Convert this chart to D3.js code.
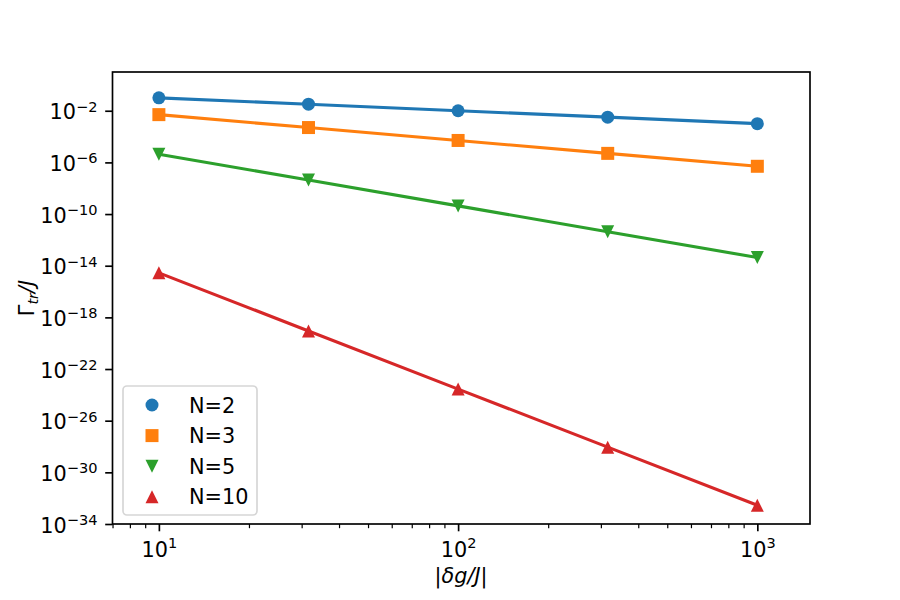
<!DOCTYPE html>
<html>
<head>
<meta charset="utf-8">
<script src="https://cdn.jsdelivr.net/npm/d3@7"></script>
<style>
  body { margin: 0; background: #fff; }
  svg { display: block; }
  svg text { font-family: "DejaVu Sans", sans-serif; }
</style>
</head>
<body>
<div id="chart"></div>
<script>
// coupling strengths |dg/J| (log spaced)
const deltaG = [10, 31.62, 100, 316.2, 1000];

// transfer rates
const rateN2 = [1.0e-1, 3.2e-2, 1.0e-2, 3.2e-3, 1.0e-3];
const rateN3 = [5.0e-3, 5.0e-4, 5.0e-5, 5.0e-6, 5.0e-7];
const rateN5 = [4.3e-6, 4.3e-8, 4.3e-10, 4.3e-12, 4.3e-14];
const rateN10 = [2.8e-15, 8.9e-20, 2.8e-24, 8.9e-29, 2.8e-33];

const seriesNames = ['N=2', 'N=3', 'N=5', 'N=10'];
const seriesColors = ['#1f77b4', '#ff7f0e', '#2ca02c', '#d62728'];
const seriesMarkers = ['circle', 'square', 'down', 'up'];

const xMajorTicks = [1, 2, 3];            // exponents of 10
const yMajorTicks = [-34, -30, -26, -22, -18, -14, -10, -6, -2];

const width = 900;
const height = 600;
const margin = { top: 72, right: 90, bottom: 76, left: 112.5 };
const fontSize = 20.8;

const svg = d3.select('#chart')
    .append('svg')
    .attr('width', width)
    .attr('height', height);

const scaleX = d3.scaleLog()
    .domain([Math.pow(10, 0.845), Math.pow(10, 3.176)])
    .range([margin.left, width - margin.right]);

const scaleY = d3.scaleLog()
    .domain([1e-34, 1e1])
    .range([height - margin.bottom, margin.top]);

// minor x ticks: 2..9 x 10^n inside the domain
const xMinorTicks = [];
[1, 10, 100, 1000].forEach(dec => {
    for (let k = 2; k <= 9; k++) {
        const v = k * dec;
        if (v >= scaleX.domain()[0] - 1e-9 && v <= scaleX.domain()[1]) xMinorTicks.push(v);
    }
});

// X axis
const xAxis = svg.append('g')
    .attr('transform', `translate(0, ${height - margin.bottom})`)
    .call(d3.axisBottom(scaleX)
        .tickValues(xMajorTicks.map(e => Math.pow(10, e)))
        .tickSize(7.3)
        .tickFormat(() => ''))
    .attr('font-family', null);

svg.append('g')
    .attr('transform', `translate(0, ${height - margin.bottom})`)
    .call(d3.axisBottom(scaleX)
        .tickValues(xMinorTicks)
        .tickSize(4.2)
        .tickFormat(() => ''))
    .call(g => g.select('.domain').remove())
    .call(g => g.selectAll('line').attr('stroke-width', 1.2));

xAxis.select('.domain').remove();
xAxis.selectAll('line').attr('stroke-width', 1.67);

xAxis.selectAll('.tick')
    .append('text')
    .attr('fill', '#000')
    .attr('y', 32.5)
    .attr('text-anchor', 'middle')
    .style('font-family', '"DejaVu Sans"')
    .style('font-size', fontSize + 'px')
    .each(function (d) {
        const t = d3.select(this);
        t.append('tspan').text('10');
        t.append('tspan')
            .attr('dy', -8.5)
            .style('font-size', (fontSize * 0.7) + 'px')
            .text(Math.round(Math.log10(d)));
    });

// Y axis
const yAxis = svg.append('g')
    .attr('transform', `translate(${margin.left}, 0)`)
    .call(d3.axisLeft(scaleY)
        .tickValues(yMajorTicks.map(e => Math.pow(10, e)))
        .tickSize(7.3)
        .tickFormat(() => ''))
    .attr('font-family', null);

yAxis.select('.domain').remove();
yAxis.selectAll('line').attr('stroke-width', 1.67);

yAxis.selectAll('.tick')
    .append('text')
    .attr('fill', '#000')
    .attr('x', -15)
    .attr('y', 8)
    .attr('text-anchor', 'end')
    .style('font-family', '"DejaVu Sans"')
    .style('font-size', fontSize + 'px')
    .each(function (d) {
        const t = d3.select(this);
        const e = Math.round(Math.log10(d));
        t.append('tspan').text('10');
        t.append('tspan')
            .attr('dy', -7.5)
            .style('font-size', (fontSize * 0.7) + 'px')
            .text('\u2212' + Math.abs(e));
    });

// series
const series = [rateN2, rateN3, rateN5, rateN10].map((vals, i) => ({
    name: seriesNames[i],
    color: seriesColors[i],
    marker: seriesMarkers[i],
    points: vals.map((v, j) => ({ x: deltaG[j], y: v }))
}));

const ms = 13;
function markerPath(type) {
    const h = ms / 2;
    if (type === 'circle') return d3.symbol(d3.symbolCircle, Math.PI * h * h)();
    if (type === 'square') return `M${-h},${-h}H${h}V${h}H${-h}Z`;
    if (type === 'down') return `M${-h},${-h}L${h},${-h}L0,${h}Z`;
    return `M0,${-h}L${h},${h}L${-h},${h}Z`;
}

const lineMaker = d3.line()
    .x(d => scaleX(d.x))
    .y(d => scaleY(d.y));

series.forEach(s => {
    svg.append('path')
        .attr('d', lineMaker(s.points))
        .attr('fill', 'none')
        .attr('stroke', s.color)
        .attr('stroke-width', 3.1);

    svg.append('g')
        .selectAll('path')
        .data(s.points)
        .enter()
        .append('path')
        .attr('d', markerPath(s.marker))
        .attr('transform', d => `translate(${scaleX(d.x)},${scaleY(d.y)})`)
        .attr('fill', s.color);
});

// frame
svg.append('rect')
    .attr('x', margin.left)
    .attr('y', margin.top)
    .attr('width', width - margin.left - margin.right)
    .attr('height', height - margin.top - margin.bottom)
    .attr('fill', 'none')
    .attr('stroke', '#000')
    .attr('stroke-width', 1.67);

// legend
const legend = svg.append('g');
legend.append('rect')
    .attr('x', 123)
    .attr('y', 386)
    .attr('width', 134)
    .attr('height', 129)
    .attr('rx', 4)
    .attr('fill', '#fff')
    .attr('fill-opacity', 0.8)
    .attr('stroke', '#d6d6d6')
    .attr('stroke-width', 1.67);

const legendRows = legend.selectAll('g.row')
    .data(series)
    .enter()
    .append('g')
    .attr('class', 'row')
    .attr('transform', (d, i) => `translate(152, ${405 + i * 30.6})`);

legendRows.append('path')
    .attr('d', d => markerPath(d.marker))
    .attr('fill', d => d.color);

legendRows.append('text')
    .attr('x', 37)
    .attr('y', 7.6)
    .style('font-size', fontSize + 'px')
    .text(d => d.name);

// axis labels
svg.append('text')
    .attr('x', 461)
    .attr('y', 583)
    .attr('text-anchor', 'middle')
    .style('font-size', fontSize + 'px')
    .call(t => {
        t.append('tspan').text('|');
        t.append('tspan').style('font-style', 'italic').text('\u03b4g/J');
        t.append('tspan').text('|');
    });

svg.append('text')
    .attr('transform', 'translate(34, 298) rotate(-90)')
    .attr('text-anchor', 'middle')
    .style('font-size', fontSize + 'px')
    .call(t => {
        t.append('tspan').text('\u0393');
        t.append('tspan')
            .attr('dy', 4)
            .style('font-style', 'italic')
            .style('font-size', (fontSize * 0.7) + 'px')
            .text('tr');
        t.append('tspan')
            .attr('dy', -4)
            .style('font-style', 'italic')
            .text('/J');
    });
</script>
</body>
</html>
